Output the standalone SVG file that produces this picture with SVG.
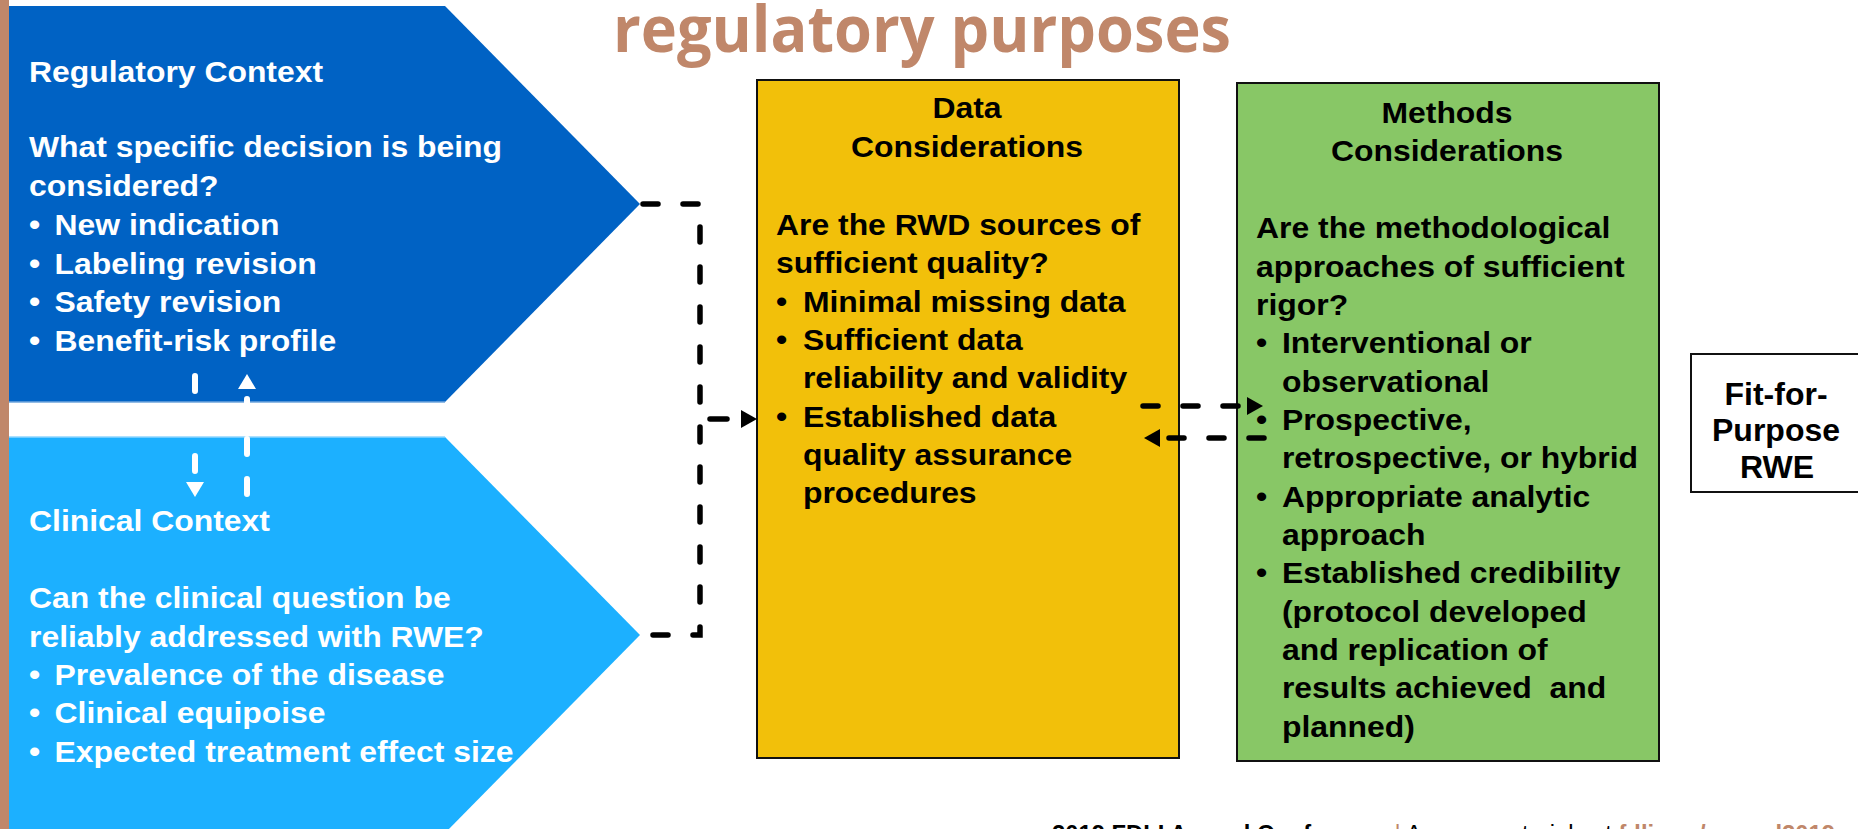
<svg xmlns="http://www.w3.org/2000/svg" width="1858" height="829" viewBox="0 0 1858 829">
  <style>
    .t { font-family: "Liberation Sans", Arial, sans-serif; font-weight: bold; font-size: 29px; }
    .w { fill: #ffffff; }
    .k { fill: #000000; }
    .mid { text-anchor: middle; }
    .dash-k { fill: none; stroke: #000; stroke-width: 5.5; stroke-linecap: round; stroke-dasharray: 15 25; }
    .dash-w { fill: none; stroke: #fff; stroke-width: 6; stroke-linecap: round; stroke-dasharray: 15 25; }
    .box { stroke: #111; stroke-width: 2; }
  </style>
  <defs>
    <marker id="arrK" markerUnits="userSpaceOnUse" markerWidth="16" markerHeight="18" refX="0" refY="9" orient="auto">
      <path d="M0,0 L16,9 L0,18 Z" fill="#000"/>
    </marker>
    <marker id="arrW" markerUnits="userSpaceOnUse" markerWidth="15" markerHeight="18" refX="0" refY="9" orient="auto">
      <path d="M0,0 L15,9 L0,18 Z" fill="#fff"/>
    </marker>
  </defs>

  <rect x="0" y="0" width="1858" height="829" fill="#ffffff"/>
  <!-- accent bar on the left edge -->
  <rect x="0" y="0" width="9" height="829" fill="#C0876A"/>

  <!-- title -->
  <text x="613" y="52" textLength="618" lengthAdjust="spacingAndGlyphs" style="font-family: 'Open Sans', 'Liberation Sans', sans-serif; font-weight: bold; font-size: 64px;" fill="#C0876A">regulatory purposes</text>

  <!-- Regulatory Context chevron -->
  <g id="regulatory-context">
    <polygon points="9,6 445,6 640,204 445,402 9,402" fill="#0062C4"/>
    <line x1="9" y1="402" x2="445" y2="402" stroke="#6FA6DD" stroke-width="1.5"/>
    <g class="t w" transform="translate(29,0) scale(1.1,1)">
      <text x="0" y="82">Regulatory Context</text>
      <text x="0" y="157">What specific decision is being</text>
      <text x="0" y="196">considered?</text>
      <text x="0" y="235">•</text><text x="23.2" y="235">New indication</text>
      <text x="0" y="274">•</text><text x="23.2" y="274">Labeling revision</text>
      <text x="0" y="312">•</text><text x="23.2" y="312">Safety revision</text>
      <text x="0" y="351">•</text><text x="23.2" y="351">Benefit-risk profile</text>
    </g>
  </g>

  <!-- Clinical Context chevron -->
  <g id="clinical-context">
    <polygon points="9,437 445,437 640,635 445,833 9,833" fill="#1CB0FF"/>
    <line x1="9" y1="437" x2="445" y2="437" stroke="#8FD6FF" stroke-width="1.5"/>
    <g class="t w" transform="translate(29,0) scale(1.1,1)">
      <text x="0" y="531">Clinical Context</text>
      <text x="0" y="608">Can the clinical question be</text>
      <text x="0" y="647">reliably addressed with RWE?</text>
      <text x="0" y="685">•</text><text x="23.2" y="685">Prevalence of the disease</text>
      <text x="0" y="723">•</text><text x="23.2" y="723">Clinical equipoise</text>
      <text x="0" y="762">•</text><text x="23.2" y="762">Expected treatment effect size</text>
    </g>
  </g>

  <!-- Data Considerations -->
  <g id="data-considerations">
    <rect class="box" x="757" y="80" width="422" height="678" fill="#F2C00A"/>
    <g class="t k mid" transform="translate(967,0) scale(1.1,1)">
      <text x="0" y="118">Data</text>
      <text x="0" y="157">Considerations</text>
    </g>
    <g class="t k" transform="translate(776,0) scale(1.1,1)">
      <text x="0" y="235">Are the RWD sources of</text>
      <text x="0" y="273">sufficient quality?</text>
      <text x="0" y="312">•</text><text x="24.5" y="312">Minimal missing data</text>
      <text x="0" y="350">•</text><text x="24.5" y="350">Sufficient data</text>
      <text x="24.5" y="388">reliability and validity</text>
      <text x="0" y="427">•</text><text x="24.5" y="427">Established data</text>
      <text x="24.5" y="465">quality assurance</text>
      <text x="24.5" y="503">procedures</text>
    </g>
  </g>

  <!-- Methods Considerations -->
  <g id="methods-considerations">
    <rect class="box" x="1237" y="83" width="422" height="678" fill="#88C766"/>
    <g class="t k mid" transform="translate(1447,0) scale(1.1,1)">
      <text x="0" y="123">Methods</text>
      <text x="0" y="161">Considerations</text>
    </g>
    <g class="t k" transform="translate(1256,0) scale(1.1,1)">
      <text x="0" y="238">Are the methodological</text>
      <text x="0" y="277">approaches of sufficient</text>
      <text x="0" y="315">rigor?</text>
      <text x="0" y="353">•</text><text x="23.6" y="353">Interventional or</text>
      <text x="23.6" y="392">observational</text>
      <text x="0" y="430">•</text><text x="23.6" y="430">Prospective,</text>
      <text x="23.6" y="468">retrospective, or hybrid</text>
      <text x="0" y="507">•</text><text x="23.6" y="507">Appropriate analytic</text>
      <text x="23.6" y="545">approach</text>
      <text x="0" y="583">•</text><text x="23.6" y="583">Established credibility</text>
      <text x="23.6" y="622">(protocol developed</text>
      <text x="23.6" y="660">and replication of</text>
      <text x="23.6" y="698" xml:space="preserve">results achieved  and</text>
      <text x="23.6" y="737">planned)</text>
    </g>
  </g>

  <!-- Fit-for-Purpose RWE -->
  <g id="fit-for-purpose">
    <rect class="box" x="1691" y="354" width="200" height="138" fill="#ffffff"/>
    <g class="k mid" style="font-family: 'Liberation Sans', Arial, sans-serif; font-weight: bold; font-size: 32px;">
      <text x="1776" y="405">Fit-for-</text>
      <text x="1776" y="441">Purpose</text>
      <text x="1777" y="478">RWE</text>
    </g>
  </g>

  <!-- connectors -->
  <g id="connectors">
    <!-- regulatory <-> clinical context -->
    <path class="dash-w" d="M195,376 V482" marker-end="url(#arrW)"/>
    <path class="dash-w" d="M247,494 V389" marker-end="url(#arrW)"/>
    <!-- both contexts feed the data considerations -->
    <path class="dash-k" d="M643,204 H700 V635 H643"/>
    <path class="dash-k" d="M710,419 H741" style="stroke-dasharray: 17 100" marker-end="url(#arrK)"/>
    <!-- data <-> methods -->
    <path class="dash-k" d="M1143,406 H1247" marker-end="url(#arrK)"/>
    <path class="dash-k" d="M1264,438 H1160" marker-end="url(#arrK)"/>
  </g>

  <!-- footer line, mostly below the bottom edge -->
  <text x="1052" y="842" textLength="783" lengthAdjust="spacingAndGlyphs" style="font-family: 'Liberation Sans', Arial, sans-serif; font-size: 23px;" fill="#000"><tspan font-weight="bold">2019 FDLI Annual Conference</tspan><tspan fill="#C0876A"> | </tspan><tspan>Access materials at </tspan><tspan fill="#C0876A" font-weight="bold">fdli.org/annual2019</tspan></text>
</svg>
